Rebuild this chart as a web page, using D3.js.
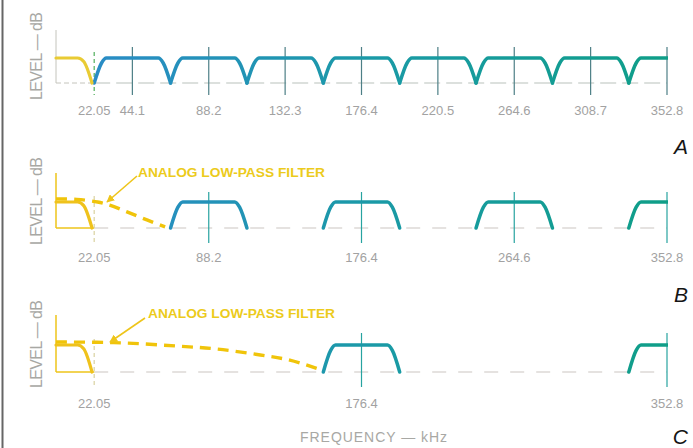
<!DOCTYPE html>
<html>
<head>
<meta charset="utf-8">
<style type="text/css">
  body{
    margin: 0;
    background: white;
    font-family: 'Liberation Sans', Arial, sans-serif;
  }
  .tickLabel{
    fill: #a2a2a2;
    font-size: 13px;
    text-anchor: middle;
  }
  .axisTitle{
    fill: #a8a8a4;
    font-size: 14px;
  }
  .levelTitle{
    fill: #a8a8a4;
    font-size: 16px;
  }
  .note{
    fill: #eccb1c;
    font-size: 12px;
    font-weight: bold;
  }
  .panelName{
    fill: #151515;
    font-size: 21px;
    font-style: italic;
    text-anchor: end;
  }
</style>
</head>
<body>

<script src="https://cdn.jsdelivr.net/npm/d3@7"></script>

<script>

// frequency ticks (kHz) and their labels for each panel
var tickValsA = [22.05, 44.1, 88.2, 132.3, 176.4, 220.5, 264.6, 308.7, 352.8];
var tickLabelsA = ["22.05", "44.1", "88.2", "132.3", "176.4", "220.5", "264.6", "308.7", "352.8"];
var tickValsB = [22.05, 88.2, 176.4, 264.6, 352.8];
var tickLabelsB = ["22.05", "88.2", "176.4", "264.6", "352.8"];
var tickValsC = [22.05, 176.4, 352.8];
var tickLabelsC = ["22.05", "176.4", "352.8"];

// centres of the image spectra (kHz)
var imagesA = [44.1, 88.2, 132.3, 176.4, 220.5, 264.6, 308.7, 352.8];
var imagesB = [88.2, 176.4, 264.6, 352.8];
var imagesC = [176.4, 352.8];

// shape of one image: [kHz offset from centre, relative level]
var imageShape = [[-22.05, 0], [-17.8, 0.8], [-15, 1], [15, 1], [17.8, 0.8], [22.05, 0]];
// audio baseband: [kHz, relative level]
var basebandShape = [[0, 1], [12.5, 1], [16, 0.86], [20.8, 0]];

// analog low-pass filter curves: [kHz, relative level]
var lpfB = [[0, 1.12], [12, 1.1], [24, 1.0], [31, 0.88], [41, 0.62], [52.5, 0.31], [63, 0.04]];
var lpfC = [[0, 1.11], [23.7, 1.1], [44.5, 1.06], [70, 0.96], [93, 0.85], [118, 0.63], [135, 0.44], [151, 0.12]];

var panels = [
  { name: "A", ticks: tickValsA, labels: tickLabelsA, images: imagesA, lpf: null,
    base: 83, top: 58, axisTop: 30, tickTop: 47, tickBot: 95, labelY: 115, nameY: 154, titleY: 56 },
  { name: "B", ticks: tickValsB, labels: tickLabelsB, images: imagesB, lpf: lpfB,
    base: 228, top: 202, axisTop: 173, tickTop: 192, tickBot: 243, labelY: 262, nameY: 302, titleY: 201,
    note: { x: 138, y: 177, from: [137, 176], to: [107, 202] } },
  { name: "C", ticks: tickValsC, labels: tickLabelsC, images: imagesC, lpf: lpfC,
    base: 372, top: 345, axisTop: 315, tickTop: 333, tickBot: 387, labelY: 408, nameY: 444, titleY: 344,
    note: { x: 148, y: 318, from: [145, 318], to: [110, 342] } }
];

var width = 693, height = 448;

var svg = d3.select("body").append("svg")
  .attr("width", width)
  .attr("height", height);

var defs = svg.append("defs");

var grad = defs.append("linearGradient")
  .attr("id", "imgGrad")
  .attr("gradientUnits", "userSpaceOnUse")
  .attr("x1", 90).attr("x2", 666).attr("y1", 0).attr("y2", 0);
grad.append("stop").attr("offset", 0).attr("stop-color", "#2a8cc6");
grad.append("stop").attr("offset", 0.5).attr("stop-color", "#1a9aa6");
grad.append("stop").attr("offset", 1).attr("stop-color", "#0f9e88");

defs.append("marker")
  .attr("id", "arrow")
  .attr("viewBox", "0 0 10 10")
  .attr("refX", 9).attr("refY", 5)
  .attr("markerWidth", 5).attr("markerHeight", 5)
  .attr("orient", "auto")
  .append("path")
  .attr("d", "M0,0 L10,5 L0,10 z")
  .attr("fill", "#eec51a");

var x = d3.scaleLinear().domain([0, 352.8]).range([56, 667]);

defs.append("clipPath").attr("id", "plotClip")
  .append("rect")
  .attr("x", x(0)).attr("y", 0)
  .attr("width", x(352.8) - x(0) + 1).attr("height", height);

// scan border on the left
svg.append("line")
  .attr("x1", 2.5).attr("x2", 2.5).attr("y1", 0).attr("y2", height)
  .attr("stroke", "#666").attr("stroke-width", 2);

panels.forEach(function(p) {

  var y = d3.scaleLinear().domain([0, 1]).range([p.base, p.top]);
  var g = svg.append("g").attr("class", "panel" + p.name);

  var line = d3.line()
    .x(function(d) { return x(d[0]); })
    .y(function(d) { return y(d[1]); })
    .curve(d3.curveMonotoneX);

  // dashed baseline
  g.append("line")
    .attr("x1", x(22.05)).attr("x2", x(352.8))
    .attr("y1", p.base).attr("y2", p.base)
    .attr("stroke", p.name == "A" ? "#b9c2bc" : "#cbc6c2")
    .attr("stroke-width", 1.2)
    .attr("stroke-dasharray", p.name == "A" ? "16,6" : "14,12");

  // left axis box around the baseband
  var boxColor = p.name == "A" ? "#c4c4bc" : "#eec51a";
  g.append("line")
    .attr("x1", x(0)).attr("x2", x(0))
    .attr("y1", p.axisTop).attr("y2", p.base)
    .attr("stroke", boxColor).attr("stroke-width", p.name == "A" ? 1 : 1.5);
  g.append("line")
    .attr("x1", x(0)).attr("x2", x(22.05))
    .attr("y1", p.base).attr("y2", p.base)
    .attr("stroke", boxColor).attr("stroke-width", p.name == "A" ? 1 : 1.5)
    .attr("stroke-dasharray", p.name == "A" ? "5,3" : null);

  // tick lines
  g.selectAll(".tickLine")
    .data(p.ticks)
    .enter()
    .append("line")
    .attr("class", "tickLine")
    .attr("x1", function(d) { return x(d); })
    .attr("x2", function(d) { return x(d); })
    .attr("y1", function(d) { return d == 22.05 ? p.top - 6 : p.tickTop; })
    .attr("y2", p.tickBot)
    .attr("stroke", function(d) {
      if (d == 22.05) return p.name == "A" ? "#4fae5a" : "#d9d2a0";
      return p.name == "A" ? "#4d7f86" : "#27a3a0";
    })
    .attr("stroke-width", 1.2)
    .attr("stroke-dasharray", function(d) { return d == 22.05 ? "4,3" : null; });

  // tick labels
  g.selectAll(".tickLabel")
    .data(p.ticks)
    .enter()
    .append("text")
    .attr("class", "tickLabel")
    .attr("x", function(d) { return x(d); })
    .attr("y", p.labelY)
    .text(function(d, i) { return p.labels[i]; });

  // image spectra
  g.append("g")
    .attr("clip-path", "url(#plotClip)")
    .selectAll(".image")
    .data(p.images)
    .enter()
    .append("path")
    .attr("class", "image")
    .attr("d", function(c) {
      return line(imageShape.map(function(s) { return [c + s[0], s[1]]; }));
    })
    .attr("fill", "none")
    .attr("stroke", "url(#imgGrad)")
    .attr("stroke-width", 3.5)
    .attr("stroke-linecap", "round")
    .attr("stroke-linejoin", "round");

  // audio baseband
  g.append("path")
    .attr("d", line(basebandShape))
    .attr("fill", "none")
    .attr("stroke", p.name == "A" ? "#e9cb34" : "#efc21c")
    .attr("stroke-width", 3.2)
    .attr("stroke-linecap", "round");

  // analog low-pass filter
  if (p.lpf) {
    g.append("path")
      .attr("d", line.curve(d3.curveCatmullRom)(p.lpf))
      .attr("fill", "none")
      .attr("stroke", "#f0c40a")
      .attr("stroke-width", 3.4)
      .attr("stroke-dasharray", "11,7");

    g.append("line")
      .attr("x1", p.note.from[0]).attr("y1", p.note.from[1])
      .attr("x2", p.note.to[0]).attr("y2", p.note.to[1])
      .attr("stroke", "#eec51a")
      .attr("stroke-width", 1.6)
      .attr("marker-end", "url(#arrow)");

    g.append("text")
      .attr("class", "note")
      .attr("x", p.note.x)
      .attr("y", p.note.y)
      .attr("textLength", 187)
      .attr("lengthAdjust", "spacingAndGlyphs")
      .text("ANALOG LOW-PASS FILTER");
  }

  // y title
  g.append("text")
    .attr("class", "levelTitle")
    .attr("transform", "translate(42," + p.titleY + ") rotate(-90)")
    .attr("text-anchor", "middle")
    .attr("textLength", 88)
    .attr("lengthAdjust", "spacing")
    .text("LEVEL — dB");

  // panel letter
  g.append("text")
    .attr("class", "panelName")
    .attr("x", 688)
    .attr("y", p.nameY)
    .text(p.name);
});

svg.append("text")
  .attr("class", "axisTitle")
  .attr("x", 300)
  .attr("y", 442)
  .attr("textLength", 147)
  .attr("lengthAdjust", "spacing")
  .text("FREQUENCY — kHz");

</script>

</body>
</html>
